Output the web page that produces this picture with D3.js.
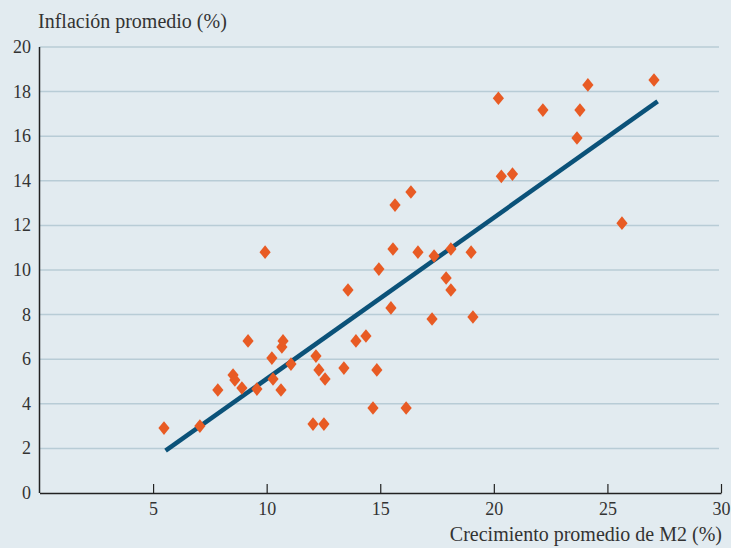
<!DOCTYPE html>
<html>
<head>
<meta charset="utf-8">
<script src="https://cdn.jsdelivr.net/npm/d3@7"></script>
<style>
  body { margin: 0; background: #e2ebf0; }
  svg { display: block; }
</style>
</head>
<body>
<div id="chart"></div>
<script>
// crecimiento promedio de M2 (%) por pais
const m2Growth = [5.48, 7.06, 7.85, 8.52, 8.6, 8.91, 9.18, 9.57, 9.93, 10.23,
                  10.28, 10.63, 10.67, 10.72, 11.07, 12.04, 12.17, 12.3, 12.52, 12.57,
                  13.4, 13.58, 13.93, 14.37, 14.68, 14.85, 14.94, 15.47, 15.56, 15.65,
                  16.14, 16.35, 16.66, 17.28, 17.37, 17.9, 18.11, 18.11, 19.0, 19.08,
                  20.2, 20.33, 20.82, 22.16, 23.66, 23.79, 24.14, 25.64, 27.05];
// inflacion promedio (%)
const inflation = [2.91, 3.0, 4.62, 5.29, 5.07, 4.71, 6.82, 4.66, 10.8, 6.05,
                   5.11, 4.62, 6.55, 6.82, 5.78, 3.09, 6.14, 5.52, 3.09, 5.11,
                   5.6, 9.1, 6.82, 7.04, 3.81, 5.52, 10.04, 8.3, 10.94, 12.91,
                   3.81, 13.5, 10.8, 7.8, 10.63, 9.64, 10.94, 9.1, 10.8, 7.89,
                   17.7, 14.2, 14.3, 17.17, 15.92, 17.17, 18.3, 12.1, 18.52];
// recta de regresion (extremos)
const fitX = [5.55, 27.21];
const fitY = [1.9, 17.56];

const xTicks = [5, 10, 15, 20, 25, 30];
const yTicks = [0, 2, 4, 6, 8, 10, 12, 14, 16, 18, 20];

const width = 731, height = 548,
      margin = ({ top: 47, right: 10, bottom: 55, left: 39.5 });
const serif = '"Liberation Serif", "Times New Roman", "DejaVu Serif", serif';

const data = m2Growth.map((g, i) => ({ x: g, y: inflation[i] }));

let svg = d3.select("#chart")
    .append("svg")
    .attr("width", width)
    .attr("height", height)
    .attr("font-family", serif);

svg.append("rect")
    .attr("width", width)
    .attr("height", height)
    .attr("fill", "#e2ebf0");

let x = d3.scaleLinear()
    .domain([0, 30])
    .range([margin.left, 721]);

let y = d3.scaleLinear()
    .domain([0, 20])
    .range([493, margin.top]);

// gridlines
svg.append("g")
    .selectAll("line")
    .data(yTicks.filter(d => d > 0))
    .join("line")
    .attr("x1", x(0))
    .attr("x2", 719)
    .attr("y1", d => y(d))
    .attr("y2", d => y(d))
    .attr("stroke", "#b8ccd6")
    .attr("stroke-width", 1.5);

// y tick labels
svg.append("g")
    .selectAll("text")
    .data(yTicks)
    .join("text")
    .attr("x", 31)
    .attr("y", d => y(d))
    .attr("text-anchor", "end")
    .attr("dominant-baseline", "central")
    .attr("font-family", serif)
    .attr("font-size", 18)
    .attr("fill", "#333")
    .text(d => d);

// x axis with inner ticks
let xAxis = svg.append("g")
    .attr("transform", `translate(0,${y(0)})`)
    .call(d3.axisBottom(x).tickValues(xTicks).tickSizeInner(-9).tickSizeOuter(0).tickPadding(9));

xAxis.attr("font-family", serif).attr("font-size", 18);
xAxis.select(".domain").attr("stroke", "#222").attr("stroke-width", 1.5);
xAxis.selectAll(".tick line").attr("stroke", "#222").attr("stroke-width", 1.2);
xAxis.selectAll(".tick text").attr("fill", "#333");

// y axis line
svg.append("line")
    .attr("x1", x(0)).attr("x2", x(0))
    .attr("y1", y(20)).attr("y2", y(0))
    .attr("stroke", "#222")
    .attr("stroke-width", 1.5);

// regression line
svg.append("line")
    .attr("x1", x(fitX[0])).attr("y1", y(fitY[0]))
    .attr("x2", x(fitX[1])).attr("y2", y(fitY[1]))
    .attr("stroke", "#0b5279")
    .attr("stroke-width", 4.5);

// diamonds
svg.append("g")
    .selectAll("path")
    .data(data)
    .join("path")
    .attr("transform", d => `translate(${x(d.x)},${y(d.y)})`)
    .attr("d", "M0,-6.8L5.6,0L0,6.8L-5.6,0Z")
    .attr("fill", "#e85b24");

// axis titles
svg.append("text")
    .attr("x", 38)
    .attr("y", 28)
    .attr("font-family", serif)
    .attr("font-size", 20)
    .attr("fill", "#333")
    .text("Inflación promedio (%)");

svg.append("text")
    .attr("text-anchor", "end")
    .attr("x", 722)
    .attr("y", 541)
    .attr("font-family", serif)
    .attr("font-size", 20)
    .attr("fill", "#333")
    .text("Crecimiento promedio de M2 (%)");
</script>
</body>
</html>
